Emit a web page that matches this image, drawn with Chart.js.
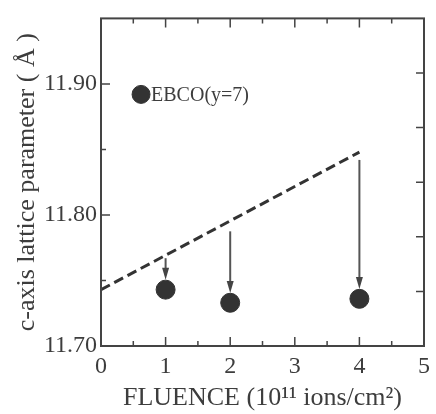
<!DOCTYPE html>
<html>
<head>
<meta charset="utf-8">
<script src="https://cdn.jsdelivr.net/npm/chart.js@4/dist/chart.umd.min.js"></script>
<style>
  body { margin: 0; background: #fff; }
</style>
</head>
<body>
<canvas id="latticeChart" width="436" height="414"></canvas>
<script>
// measured c-axis after irradiation
const fluence = [1, 2, 4];
const cAxis = [11.743, 11.733, 11.736];

// arrows drop from the expected value down to the measured one
const arrowFrom = [11.767, 11.7875, 11.842];
const arrowTo = [11.7505, 11.7405, 11.7435];

// dashed trend
const trendX = [0, 4];
const trendY = [11.743, 11.848];

// reference sample marker
const refX = [0.62];
const refY = [11.892];
const refLabel = "EBCO(y=7)";

const xLabels = [0, 1, 2, 3, 4, 5];
const yLabels = [11.70, 11.80, 11.90];

const serif = "'Liberation Serif', 'DejaVu Serif', serif";
const ink = "#3d3d3d";

function near(v, list) {
    return list.some(function (t) { return Math.abs(v - t) < 1e-6; });
}

const framePlugin = {
    id: "frame",
    afterDatasetsDraw(chart) {
        const ctx = chart.ctx;
        const a = chart.chartArea;
        const xs = chart.scales.x;
        const ys = chart.scales.y;
        const rs = chart.scales.y2;
        let i;

        ctx.save();
        ctx.strokeStyle = "#444";
        ctx.lineWidth = 2;
        ctx.strokeRect(a.left, a.top, a.right - a.left, a.bottom - a.top);

        // inward tick marks
        ctx.lineWidth = 1.5;
        ctx.beginPath();
        xs.ticks.forEach(function (t) {
            const px = xs.getPixelForValue(t.value);
            if (px <= a.left + 1 || px >= a.right - 1) return;
            const len = near(t.value, xLabels) ? 9 : 5;
            ctx.moveTo(px, a.bottom);
            ctx.lineTo(px, a.bottom - len);
            ctx.moveTo(px, a.top);
            ctx.lineTo(px, a.top + len);
        });
        ys.ticks.forEach(function (t) {
            const py = ys.getPixelForValue(t.value);
            if (py <= a.top + 1 || py >= a.bottom - 1) return;
            const len = near(t.value, yLabels) ? 9 : 5;
            ctx.moveTo(a.left, py);
            ctx.lineTo(a.left + len, py);
        });
        rs.ticks.forEach(function (t) {
            const py = rs.getPixelForValue(t.value);
            if (py <= a.top + 1 || py >= a.bottom - 1) return;
            ctx.moveTo(a.right, py);
            ctx.lineTo(a.right - 8, py);
        });
        ctx.stroke();

        // arrows
        ctx.strokeStyle = "#555";
        ctx.fillStyle = "#444";
        ctx.lineWidth = 2;
        for (i = 0; i < fluence.length; i++) {
            const px = xs.getPixelForValue(fluence[i]);
            const y0 = ys.getPixelForValue(arrowFrom[i]);
            const y1 = ys.getPixelForValue(arrowTo[i]);
            ctx.beginPath();
            ctx.moveTo(px, y0);
            ctx.lineTo(px, y1 - 10);
            ctx.stroke();
            ctx.beginPath();
            ctx.moveTo(px - 3.5, y1 - 12);
            ctx.lineTo(px + 3.5, y1 - 12);
            ctx.lineTo(px, y1);
            ctx.closePath();
            ctx.fill();
        }

        // label beside the reference marker
        ctx.fillStyle = ink;
        ctx.font = "20px " + serif;
        ctx.textAlign = "left";
        ctx.textBaseline = "middle";
        ctx.fillText(refLabel, xs.getPixelForValue(refX[0]) + 10, ys.getPixelForValue(refY[0]) + 1);
        ctx.restore();
    }
};

const CHART = document.getElementById("latticeChart");

let latticeChart = new Chart(CHART, {
    type: "scatter",
    data: {
        datasets: [{
            label: "measured",
            data: fluence.map(function (f, i) { return { x: f, y: cAxis[i] }; }),
            backgroundColor: "#333",
            borderColor: "#333",
            pointRadius: 9.5
        }, {
            label: "trend",
            type: "line",
            data: trendX.map(function (f, i) { return { x: f, y: trendY[i] }; }),
            borderColor: "#333",
            borderWidth: 3,
            borderDash: [10, 5],
            pointRadius: 0,
            fill: false
        }, {
            label: refLabel,
            data: refX.map(function (f, i) { return { x: f, y: refY[i] }; }),
            backgroundColor: "#333",
            borderColor: "#333",
            pointRadius: 9
        }]
    },
    options: {
        responsive: false,
        devicePixelRatio: 1,
        animation: false,
        layout: { padding: { top: 13, right: 2, left: 0, bottom: 0 } },
        plugins: {
            legend: { display: false },
            tooltip: { enabled: false }
        },
        scales: {
            x: {
                type: "linear",
                position: "bottom",
                min: 0,
                max: 5,
                grid: { display: false, drawTicks: false },
                border: { display: false },
                ticks: {
                    stepSize: 0.5,
                    padding: 6,
                    maxRotation: 0,
                    autoSkip: false,
                    color: ink,
                    font: { family: serif, size: 24 },
                    callback: function (v) { return near(v, xLabels) ? String(v) : ""; }
                },
                title: {
                    display: true,
                    text: "FLUENCE (10\u00b9\u00b9 ions/cm\u00b2)",
                    color: ink,
                    font: { family: serif, size: 26 },
                    padding: { top: 0, bottom: 0 }
                },
                afterFit: function (scale) { scale.height = 68; }
            },
            y: {
                type: "linear",
                position: "left",
                min: 11.70,
                max: 11.95,
                grid: { display: false, drawTicks: false },
                border: { display: false },
                ticks: {
                    stepSize: 0.05,
                    padding: 4,
                    autoSkip: false,
                    color: ink,
                    font: { family: serif, size: 24 },
                    callback: function (v) { return near(v, yLabels) ? v.toFixed(2) : ""; }
                },
                title: {
                    display: true,
                    text: "c-axis lattice parameter ( \u00c5 )",
                    color: ink,
                    font: { family: serif, size: 26 },
                    padding: { top: 12, bottom: 0 }
                },
                afterFit: function (scale) { scale.width = 101; }
            },
            y2: {
                type: "linear",
                position: "right",
                display: false,
                min: 0,
                max: 6,
                ticks: { stepSize: 1 }
            }
        }
    },
    plugins: [framePlugin]
});
</script>
</body>
</html>
